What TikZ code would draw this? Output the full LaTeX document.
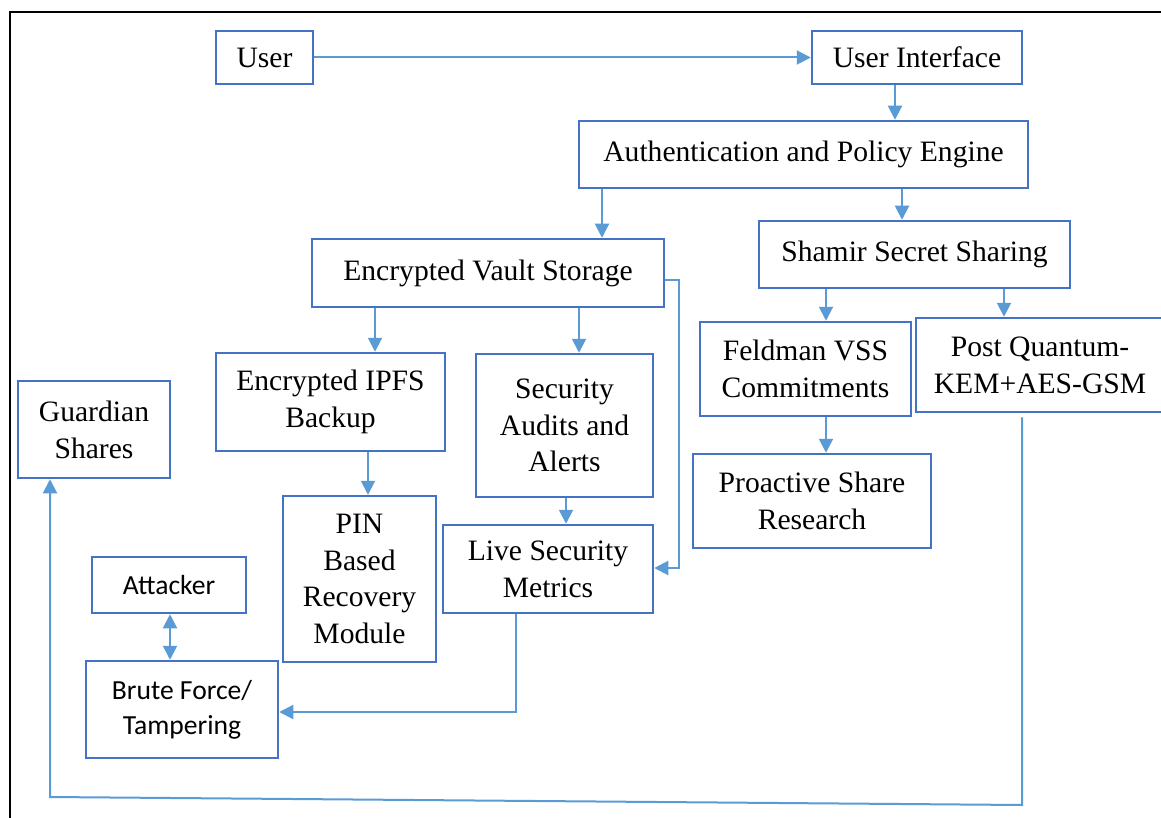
\documentclass[tikz,border=0pt]{standalone}
\usepackage{fontspec}
\setmainfont{Liberation Serif}
\newfontfamily\calfont{Carlito}
\usetikzlibrary{arrows.meta}
\definecolor{boxblue}{HTML}{4472C4}
\definecolor{linkblue}{HTML}{5B9BD5}
\tikzset{
  box/.style={draw=boxblue, line width=1.25pt, inner sep=0pt, align=center,
    font=\fontsize{14.8}{18.4}\selectfont},
  sansbox/.style={box, font=\calfont\fontsize{13.8}{17.5}\selectfont},
  link/.style={draw=linkblue, line width=1pt, -{Triangle[width=7pt,length=7pt]}},
  twolink/.style={draw=linkblue, line width=1pt,
    {Triangle[width=7pt,length=7pt]}-{Triangle[width=7pt,length=7pt]}},
  frame/.style={draw=black, line width=1.1pt}
}
% \blk[style]{name}{left}{top}{right}{bottom}{text}: a box given by its corners
\newcommand\blk[7][box]{%
  \node[#1, minimum width={(#5-#3)*0.5pt}, minimum height={(#6-#4)*0.5pt}]
    (#2) at ({(#3+#5)/2},{(#4+#6)/2}) {#7};}
\begin{document}
\begin{tikzpicture}[x=0.5pt, y=-0.5pt]
\useasboundingbox (0,0) rectangle (1161,818);
\fill[white] (0,0) rectangle (1161,818);

% outer frame (left and top edges)
\draw[frame] (10,830) -- (10,12) -- (1175,12);

% boxes
\blk{user}{216}{31}{313}{84}{User}
\blk{ui}{812}{31}{1022}{84}{User Interface}
\blk{auth}{579}{121}{1028}{188}{Authentication and Policy Engine}
\blk{vault}{312}{239}{664}{307}{Encrypted Vault Storage}
\blk{shamir}{759}{221}{1070}{288}{Shamir Secret Sharing}
\blk{ipfs}{216}{353}{445}{451}{Encrypted IPFS\\Backup}
\blk{audits}{476}{354}{653}{497}{Security\\Audits and\\Alerts}
\blk{feldman}{700}{322}{911}{416}{Feldman VSS\\Commitments}
\blk{pq}{916}{318}{1164}{412}{Post Quantum-\\KEM+AES-GSM}
\blk{guardian}{18}{381}{170}{478}{Guardian\\Shares}
\blk{proactive}{693}{454}{931}{548}{Proactive Share\\Research}
\blk{pin}{283}{496}{436}{662}{PIN\\Based\\Recovery\\Module}
\blk{live}{443}{525}{653}{613}{Live Security\\Metrics}
\blk[sansbox]{attacker}{92}{557}{246}{613}{Attacker}
\blk[sansbox]{brute}{86}{661}{278}{758}{Brute Force/\\Tampering}

% connector guide points
\coordinate (xui) at (895,0);
\coordinate (xvault) at (602,0);
\coordinate (xshamir) at (902,0);
\coordinate (xipfs) at (375,0);
\coordinate (xaudits) at (579,0);
\coordinate (xfeld) at (826,0);
\coordinate (xpq) at (1004,0);
\coordinate (xpin) at (368,0);
\coordinate (xlive) at (566,0);
\coordinate (xatt) at (170,0);
\coordinate (r1) at (679,280);
\coordinate (r2) at (679,568);
\coordinate (b1) at (516,712);
\coordinate (g1) at (1022,805);
\coordinate (g2) at (50,797);

% connectors
\draw[link] (user) -- (ui);
\draw[link] (ui.south -| xui) -- (auth.north -| xui);
\draw[link] (auth.south -| xvault) -- (vault.north -| xvault);
\draw[link] (auth.south -| xshamir) -- (shamir.north -| xshamir);
\draw[link] (vault.south -| xipfs) -- (ipfs.north -| xipfs);
\draw[link] (vault.south -| xaudits) -- (audits.north -| xaudits);
\draw[link] (shamir.south -| xfeld) -- (feldman.north -| xfeld);
\draw[link] (shamir.south -| xpq) -- (pq.north -| xpq);
\draw[link] (feldman.south -| xfeld) -- (proactive.north -| xfeld);
\draw[link] (ipfs.south -| xpin) -- (pin.north -| xpin);
\draw[link] (audits.south -| xlive) -- (live.north -| xlive);
\draw[link] (vault.east |- r1) -- (r1) -- (r2) -- (live.east |- r2);
\draw[link] (live.south -| b1) -- (b1) -- (brute.east |- b1);
\draw[twolink] (attacker.south -| xatt) -- (brute.north -| xatt);
\draw[link, shorten <=2pt] (pq.south -| g1) -- (g1) -- (g2) -- (guardian.south -| g2);
\end{tikzpicture}
\end{document}
